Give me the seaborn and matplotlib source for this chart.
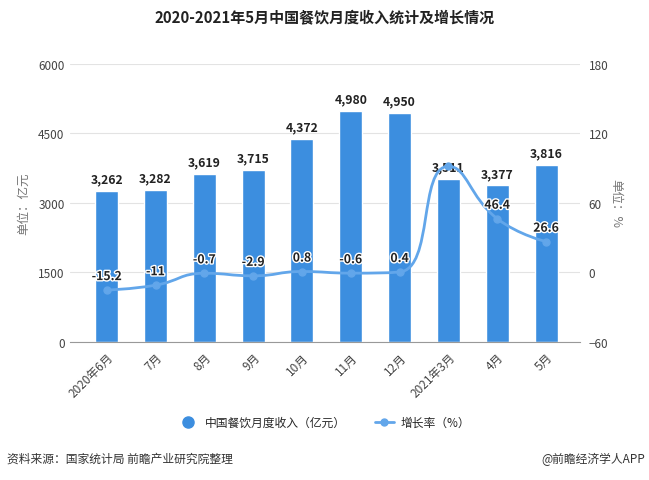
import numpy as np
import seaborn as sns
import matplotlib.pyplot as plt
from matplotlib.path import Path
from matplotlib.patches import PathPatch
from matplotlib.lines import Line2D
import matplotlib.patheffects as pe

# chart data
months = ['2020年6月', '7月', '8月', '9月', '10月', '11月', '12月', '2021年3月', '4月', '5月']
revenue = [3262, 3282, 3619, 3715, 4372, 4980, 4950, 3511, 3377, 3816]
growth = [-15.2, -11, -0.7, -2.9, 0.8, -0.6, 0.4, 91.6, 46.4, 26.6]
growth_labels = ['-15.2', '-11', '-0.7', '-2.9', '0.8', '-0.6', '0.4', '', '46.4', '26.6']

bar_color = '#3c8edf'
line_color = '#62a6ea'
text_color = '#444444'

sns.set_style('white')
plt.rcParams['font.family'] = ['Noto Sans CJK SC', 'DejaVu Sans']

fig = plt.figure(figsize=(6.49, 4.81), dpi=100)
ax = fig.add_axes([0.108, 0.287, 0.786, 0.578])

sns.barplot(x=months, y=revenue, color=bar_color, width=0.47, saturation=1, ax=ax)
ax.set_xlim(-0.75, 9.7)
ax.set_ylim(0, 6000)
ax.set_yticks([0, 1500, 3000, 4500, 6000])
ax.yaxis.grid(True, color='#e3e3e3', linewidth=0.8)
ax.set_axisbelow(True)
for s in ['top', 'left', 'right']:
    ax.spines[s].set_visible(False)
ax.spines['bottom'].set_color('#999999')
ax.tick_params(axis='y', length=0, labelsize=8.5, labelcolor=text_color, pad=4)
ax.tick_params(axis='x', length=4, color='#999999', labelsize=8.5, labelcolor=text_color, pad=2)
plt.setp(ax.get_xticklabels(), rotation=45, ha='right', rotation_mode='anchor')
ax.set_ylabel('单位：亿元', fontsize=9, color='#777777', labelpad=6)

ax.bar_label(ax.containers[0], labels=[f'{v:,}' for v in revenue], padding=4,
             fontsize=8.8, fontweight='bold', color='#222222')

# growth rate on the right axis
ax2 = ax.twinx()
ax2.set_ylim(-60, 180)
ax2.set_yticks([-60, 0, 60, 120, 180])
for s in ['top', 'left', 'right', 'bottom']:
    ax2.spines[s].set_visible(False)
ax2.tick_params(axis='y', length=0, labelsize=8.5, labelcolor=text_color, pad=6)
ax2.set_ylabel('单位：%', fontsize=9, color='#777777', rotation=-90, labelpad=10)


def smooth_path(pts, smooth=0.5):
    # echarts-style bezier smoothing with clamped control points (pixel space)
    n = len(pts)
    verts = [tuple(pts[0])]
    codes = [Path.MOVETO]
    cp0 = pts[0]
    for i in range(1, n):
        cur = pts[i]
        prev = pts[i - 1]
        if i == n - 1:
            cp1 = cur
            next_cp0 = cur
        else:
            nxt = pts[i + 1]
            v = (nxt - prev) * smooth
            d0 = np.hypot(*(cur - prev))
            d1 = np.hypot(*(nxt - cur))
            r = d1 / (d0 + d1)
            next_cp0 = cur + v * r
            next_cp0 = np.clip(next_cp0, np.minimum(nxt, cur), np.maximum(nxt, cur))
            cp1 = cur - (next_cp0 - cur) * d0 / d1
            cp1 = np.clip(cp1, np.minimum(prev, cur), np.maximum(prev, cur))
            next_cp0 = cur + (cur - cp1) * d1 / d0
        verts += [tuple(cp0), tuple(cp1), tuple(cur)]
        codes += [Path.CURVE4] * 3
        cp0 = next_cp0
    return verts, codes


xs = np.arange(len(growth), dtype=float)
ys = np.array(growth, dtype=float)
pix = ax2.transData.transform(np.column_stack([xs, ys]))
verts, codes = smooth_path(pix)
verts = ax2.transData.inverted().transform(np.array(verts))
ax2.add_patch(PathPatch(Path(verts, codes), fill=False, edgecolor=line_color, linewidth=2))
ax2.plot(xs, ys, linestyle='none', marker='o', markersize=5, color=line_color,
         markeredgecolor=line_color)

for x, y, lab in zip(xs, ys, growth_labels):
    if lab:
        ax2.annotate(lab, (x, y), xytext=(0, 5), textcoords='offset points', ha='center',
                     va='bottom', fontsize=8.8, fontweight='bold', color='#222222',
                     path_effects=[pe.withStroke(linewidth=2, foreground='white')])

fig.text(0.5, 0.962, '2020-2021年5月中国餐饮月度收入统计及增长情况', ha='center', va='center',
         fontsize=10.8, fontweight='bold', color='#222222')

handles = [Line2D([], [], linestyle='none', marker='o', markersize=8, color=bar_color),
           Line2D([], [], color=line_color, linewidth=2, marker='o', markersize=5)]
fig.legend(handles, ['中国餐饮月度收入（亿元）', '增长率（%）'], loc='center',
           bbox_to_anchor=(0.5, 0.12), ncol=2, frameon=False, fontsize=8.5,
           handlelength=1.6, columnspacing=2.5, handletextpad=0.6)

fig.text(0.011, 0.045, '资料来源：国家统计局 前瞻产业研究院整理', fontsize=8.5, color='#333333', va='center')
fig.text(0.994, 0.045, '@前瞻经济学人APP', fontsize=8.5, color='#333333', va='center', ha='right')

fig.savefig('out.png', dpi=100)
